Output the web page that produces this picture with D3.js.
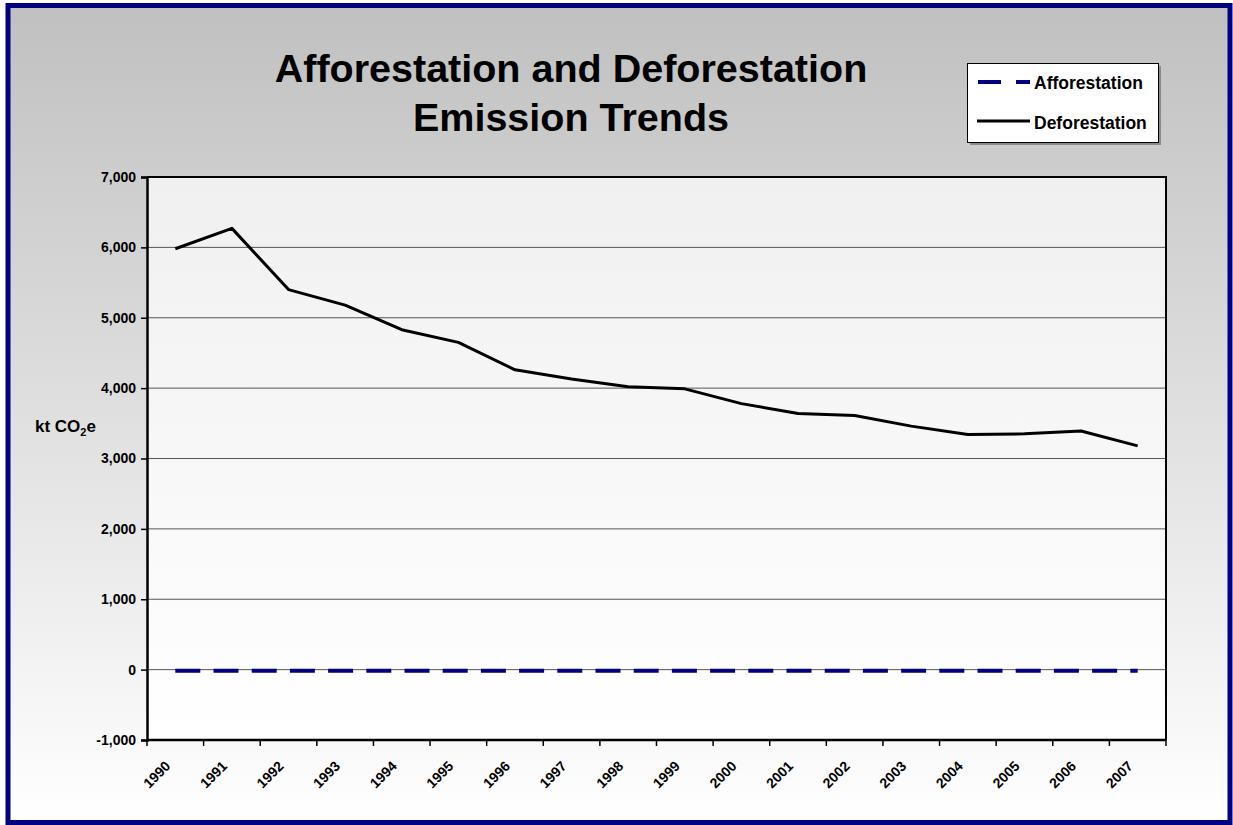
<!DOCTYPE html>
<html>
<head>
<meta charset="utf-8">
<script src="https://cdn.jsdelivr.net/npm/d3@7"></script>
<style>
  html, body { margin: 0; padding: 0; background: #fff; }
  svg { display: block; }
  text { font-family: "Liberation Sans", Arial, sans-serif; font-weight: bold; fill: #000; }
</style>
</head>
<body>
<script>
const years = ["1990","1991","1992","1993","1994","1995","1996","1997","1998","1999","2000","2001","2002","2003","2004","2005","2006","2007"];
const deforestation = [5980, 6270, 5400, 5180, 4830, 4650, 4260, 4130, 4020, 3990, 3780, 3640, 3610, 3460, 3340, 3350, 3390, 3180];
const afforestation = [-15, -15, -15, -15, -15, -15, -15, -15, -15, -15, -15, -15, -15, -15, -15, -15, -15, -15];
const yTicks = [-1000, 0, 1000, 2000, 3000, 4000, 5000, 6000, 7000];
const seriesNames = ["Afforestation", "Deforestation"];
const titleLines = ["Afforestation and Deforestation", "Emission Trends"];

const W = 1233, H = 825;
const plot = { left: 147, right: 1166, top: 177, bottom: 740 };

const svg = d3.select("body").append("svg").attr("width", W).attr("height", H);
const defs = svg.append("defs");

const bg = defs.append("linearGradient").attr("id", "bgGrad").attr("x1", 0).attr("y1", 0).attr("x2", 0).attr("y2", 1);
bg.append("stop").attr("offset", "0%").attr("stop-color", "#c0c0c0");
bg.append("stop").attr("offset", "100%").attr("stop-color", "#ffffff");

const pg = defs.append("linearGradient").attr("id", "plotGrad").attr("x1", 0).attr("y1", 0).attr("x2", 0).attr("y2", 1);
pg.append("stop").attr("offset", "0%").attr("stop-color", "#f0f0f0");
pg.append("stop").attr("offset", "100%").attr("stop-color", "#ffffff");

// page background + frame
svg.append("rect").attr("x", 0).attr("y", 0).attr("width", W).attr("height", H).attr("fill", "#ffffff");
svg.append("rect").attr("x", 8).attr("y", 5.5).attr("width", 1222).attr("height", 817)
  .attr("fill", "url(#bgGrad)").attr("stroke", "#000080").attr("stroke-width", 5);

// Title
const title = svg.append("text").attr("text-anchor", "middle").style("font-size", "39.5px");
titleLines.forEach((t, i) => {
  title.append("tspan").attr("x", 571).attr("y", 82 + i * 49).text(t);
});

// Scales
const x = d3.scaleBand().domain(years).range([plot.left, plot.right]).padding(0);
const y = d3.scaleLinear().domain([-1000, 7000]).range([plot.bottom, plot.top]);
const cx = d => x(d) + x.bandwidth() / 2;

// plot area
svg.append("rect").attr("x", plot.left).attr("y", plot.top)
  .attr("width", plot.right - plot.left).attr("height", plot.bottom - plot.top)
  .attr("fill", "url(#plotGrad)");

// gridlines
svg.append("g").selectAll("line").data(yTicks.filter(v => v > -1000 && v < 7000)).join("line")
  .attr("x1", plot.left).attr("x2", plot.right)
  .attr("y1", d => y(d)).attr("y2", d => y(d))
  .attr("stroke", "#555").attr("stroke-width", 1);

// plot border (top & right)
svg.append("path")
  .attr("d", `M${plot.left},${plot.top}H${plot.right}V${plot.bottom}`)
  .attr("fill", "none").attr("stroke", "#000").attr("stroke-width", 2);

// Y axis
const fmt = d3.format(",");
const yAxis = d3.axisLeft(y).tickValues(yTicks).tickSize(6).tickPadding(5)
  .tickFormat(d => fmt(d).replace("\u2212", "-"));
const gy = svg.append("g").attr("transform", `translate(${plot.left},0)`).call(yAxis);
gy.select(".domain").attr("stroke", "#000").attr("stroke-width", 2.5);
gy.selectAll(".tick line").attr("stroke", "#000").attr("stroke-width", 1.5);
gy.selectAll(".tick text").style("font-size", "14px").style("font-family", "'Liberation Sans', Arial, sans-serif").style("font-weight", "bold").attr("fill", "#000");

// X axis (ticks at band boundaries)
const gx = svg.append("g").attr("transform", `translate(0,${plot.bottom})`);
gx.append("line").attr("x1", plot.left).attr("x2", plot.right).attr("y1", 0).attr("y2", 0)
  .attr("stroke", "#000").attr("stroke-width", 2.5);
const boundaries = years.map(d => x(d)).concat([plot.right]);
gx.selectAll("line.tk").data(boundaries).join("line").attr("class", "tk")
  .attr("x1", d => d).attr("x2", d => d).attr("y1", 0).attr("y2", 6)
  .attr("stroke", "#000").attr("stroke-width", 1.5);
gx.selectAll("text").data(years).join("text")
  .attr("text-anchor", "end")
  .attr("transform", d => `translate(${cx(d) - 4},27) rotate(-45)`)
  .style("font-size", "14px")
  .text(d => d);

// Y label
const yl = svg.append("text").attr("x", 35).attr("y", 432).style("font-size", "17px");
yl.append("tspan").text("kt CO");
yl.append("tspan").attr("dy", 4).style("font-size", "11px").text("2");
yl.append("tspan").attr("dy", -4).text("e");

// lines
const line = d3.line().x((d, i) => cx(years[i])).y(d => y(d));
svg.append("path").datum(deforestation).attr("d", line)
  .attr("fill", "none").attr("stroke", "#000").attr("stroke-width", 3).attr("stroke-linejoin", "round");
svg.append("path").datum(afforestation).attr("d", line)
  .attr("fill", "none").attr("stroke", "#000080").attr("stroke-width", 4)
  .attr("stroke-dasharray", "25,13.2");

// Legend
const lg = svg.append("g");
lg.append("rect").attr("x", 970).attr("y", 66).attr("width", 191).attr("height", 79).attr("fill", "#8a8a8a");
lg.append("rect").attr("x", 967.5).attr("y", 63.5).attr("width", 191).attr("height", 79)
  .attr("fill", "#fff").attr("stroke", "#000").attr("stroke-width", 1);
lg.append("line").attr("x1", 978).attr("x2", 1030).attr("y1", 82).attr("y2", 82)
  .attr("stroke", "#000080").attr("stroke-width", 4).attr("stroke-dasharray", "23,15");
lg.append("line").attr("x1", 977).attr("x2", 1030).attr("y1", 121).attr("y2", 121)
  .attr("stroke", "#000").attr("stroke-width", 3);
lg.append("text").attr("x", 1034).attr("y", 89).style("font-size", "17.5px").text(seriesNames[0]);
lg.append("text").attr("x", 1034).attr("y", 129).style("font-size", "17.5px").text(seriesNames[1]);
</script>
</body>
</html>
